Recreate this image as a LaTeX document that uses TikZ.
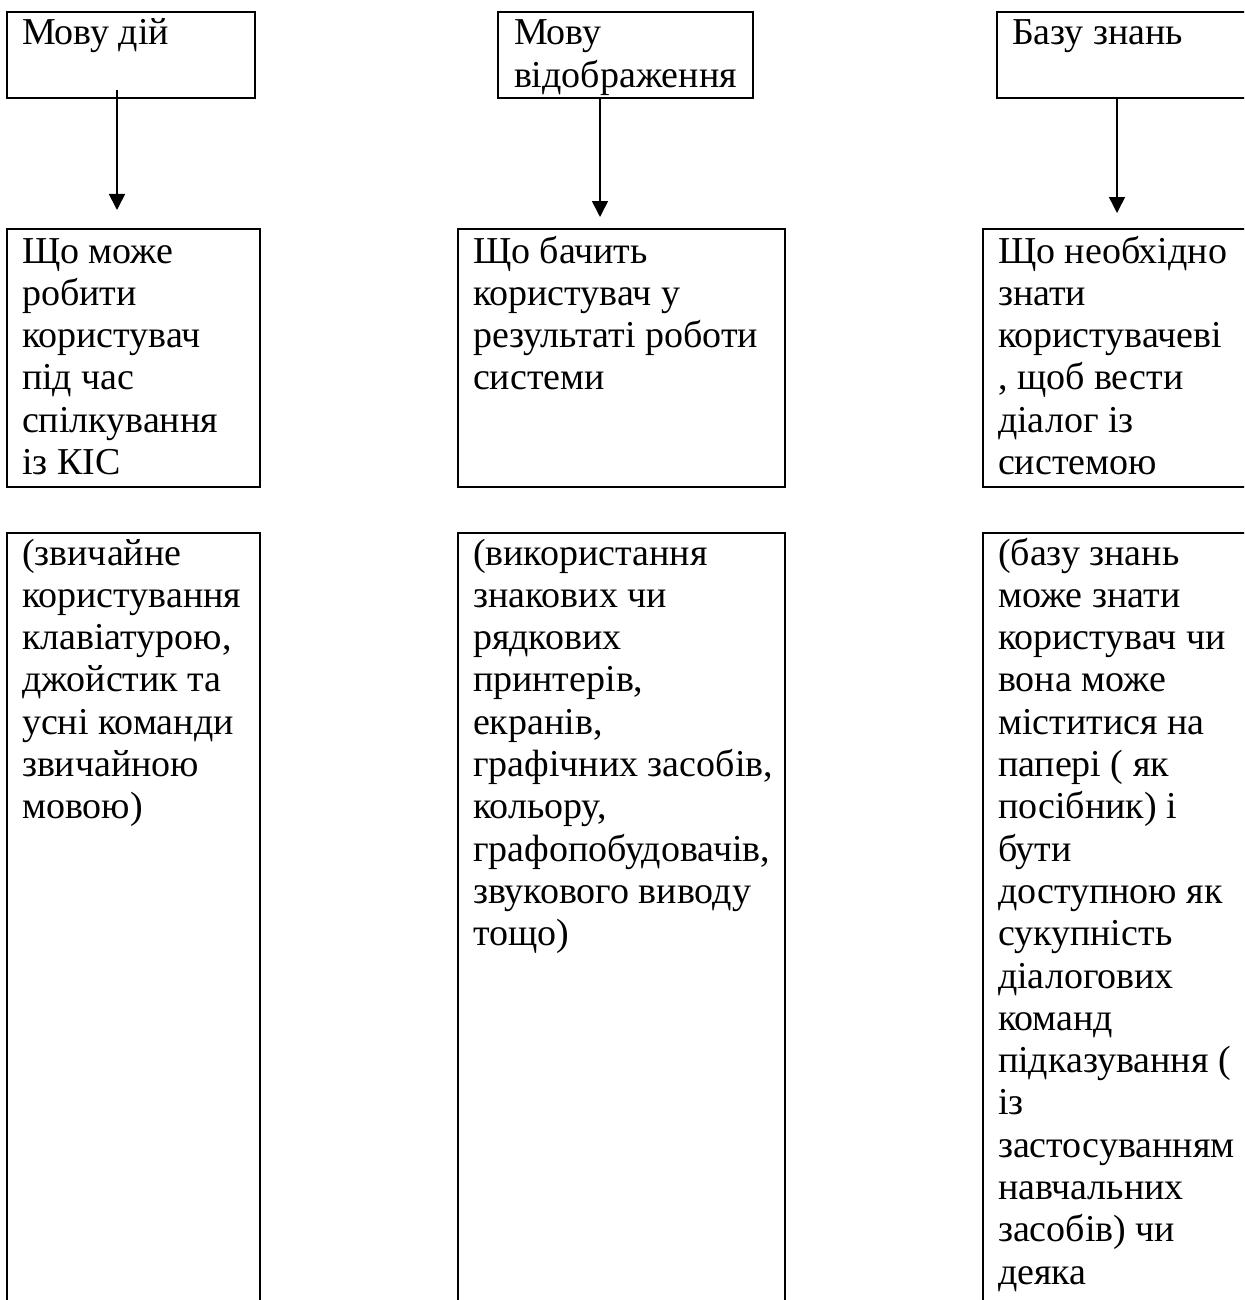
\documentclass[tikz,border=0pt]{standalone}
\usepackage{fontspec}
\setmainfont{Liberation Serif}
\usetikzlibrary{arrows.meta}
\tikzset{
  boxnode/.style={draw=black, line width=2.5pt, fill=none, inner sep=0pt, outer sep=0pt, anchor=north west},
  txtnode/.style={inner sep=0pt, outer sep=0pt, anchor=base west},
  conn/.style={line width=1.6pt, -{Triangle[length=16pt,width=16pt]}}
}
\newcommand{\boxtext}[1]{\parbox[t]{400pt}{\fontsize{38}{42.3}\selectfont\raggedright #1}}
\begin{document}
\begin{tikzpicture}[x=1pt,y=-1pt]
\useasboundingbox (0,0) rectangle (1244,1300);
\fill[white] (0,0) rectangle (1244,1300);
\clip (0,0) rectangle (1244,1300);
% top row
\node[boxnode, minimum width=248pt, minimum height=86pt] (t1) at (7,12) {};
\node[boxnode, minimum width=255pt, minimum height=86pt] (t2) at (498,12) {};
\node[boxnode, minimum width=280pt, minimum height=86pt] (t3) at (997,12) {};
% middle row
\node[boxnode, minimum width=253pt, minimum height=258pt] (m1) at (7,229) {};
\node[boxnode, minimum width=327pt, minimum height=258pt] (m2) at (458,229) {};
\node[boxnode, minimum width=300pt, minimum height=258pt] (m3) at (983,229) {};
% bottom row
\node[boxnode, minimum width=253pt, minimum height=800pt] (b1) at (7,533) {};
\node[boxnode, minimum width=327pt, minimum height=800pt] (b2) at (458,533) {};
\node[boxnode, minimum width=300pt, minimum height=800pt] (b3) at (983,533) {};
% texts
\node[txtnode] (t1x) at (22,45) {\boxtext{Мову дій}};
\node[txtnode] (t2x) at (514,45) {\boxtext{Мову\\відображення}};
\node[txtnode] (t3x) at (1012,45) {\boxtext{Базу знань}};
\node[txtnode] (m1x) at (22,263) {\boxtext{Що може\\робити\\користувач\\під час\\спілкування\\із КІС}};
\node[txtnode] (m2x) at (473,263) {\boxtext{Що бачить\\користувач у\\результаті роботи\\системи}};
\node[txtnode] (m3x) at (998,263) {\boxtext{Що необхідно\\знати\\користувачеві\\, щоб вести\\діалог із\\системою}};
\node[txtnode] (b1x) at (22,565) {\boxtext{(звичайне\\користування\\клавіатурою,\\джойстик та\\усні команди\\звичайною\\мовою)}};
\node[txtnode] (b2x) at (473,565) {\boxtext{(використання\\знакових чи\\рядкових\\принтерів,\\екранів,\\графічних засобів,\\кольору,\\графопобудовачів,\\звукового виводу\\тощо)}};
\node[txtnode] (b3x) at (998,565) {\boxtext{(базу знань\\може знати\\користувач чи\\вона може\\міститися на\\папері ( як\\посібник) і\\бути\\доступною як\\сукупність\\діалогових\\команд\\підказування (\\із\\застосуванням\\навчальних\\засобів) чи\\деяка}};
% connectors
\draw[conn] ([xshift=110pt,yshift=8pt]t1.south west) -- ([xshift=110pt,yshift=19pt]m1.north west);
\draw[conn] ([xshift=102pt,yshift=1pt]t2.south west) -- ([xshift=142pt,yshift=12pt]m2.north west);
\draw[conn] ([xshift=120pt,yshift=1pt]t3.south west) -- ([xshift=134pt,yshift=16pt]m3.north west);
\end{tikzpicture}
\end{document}
